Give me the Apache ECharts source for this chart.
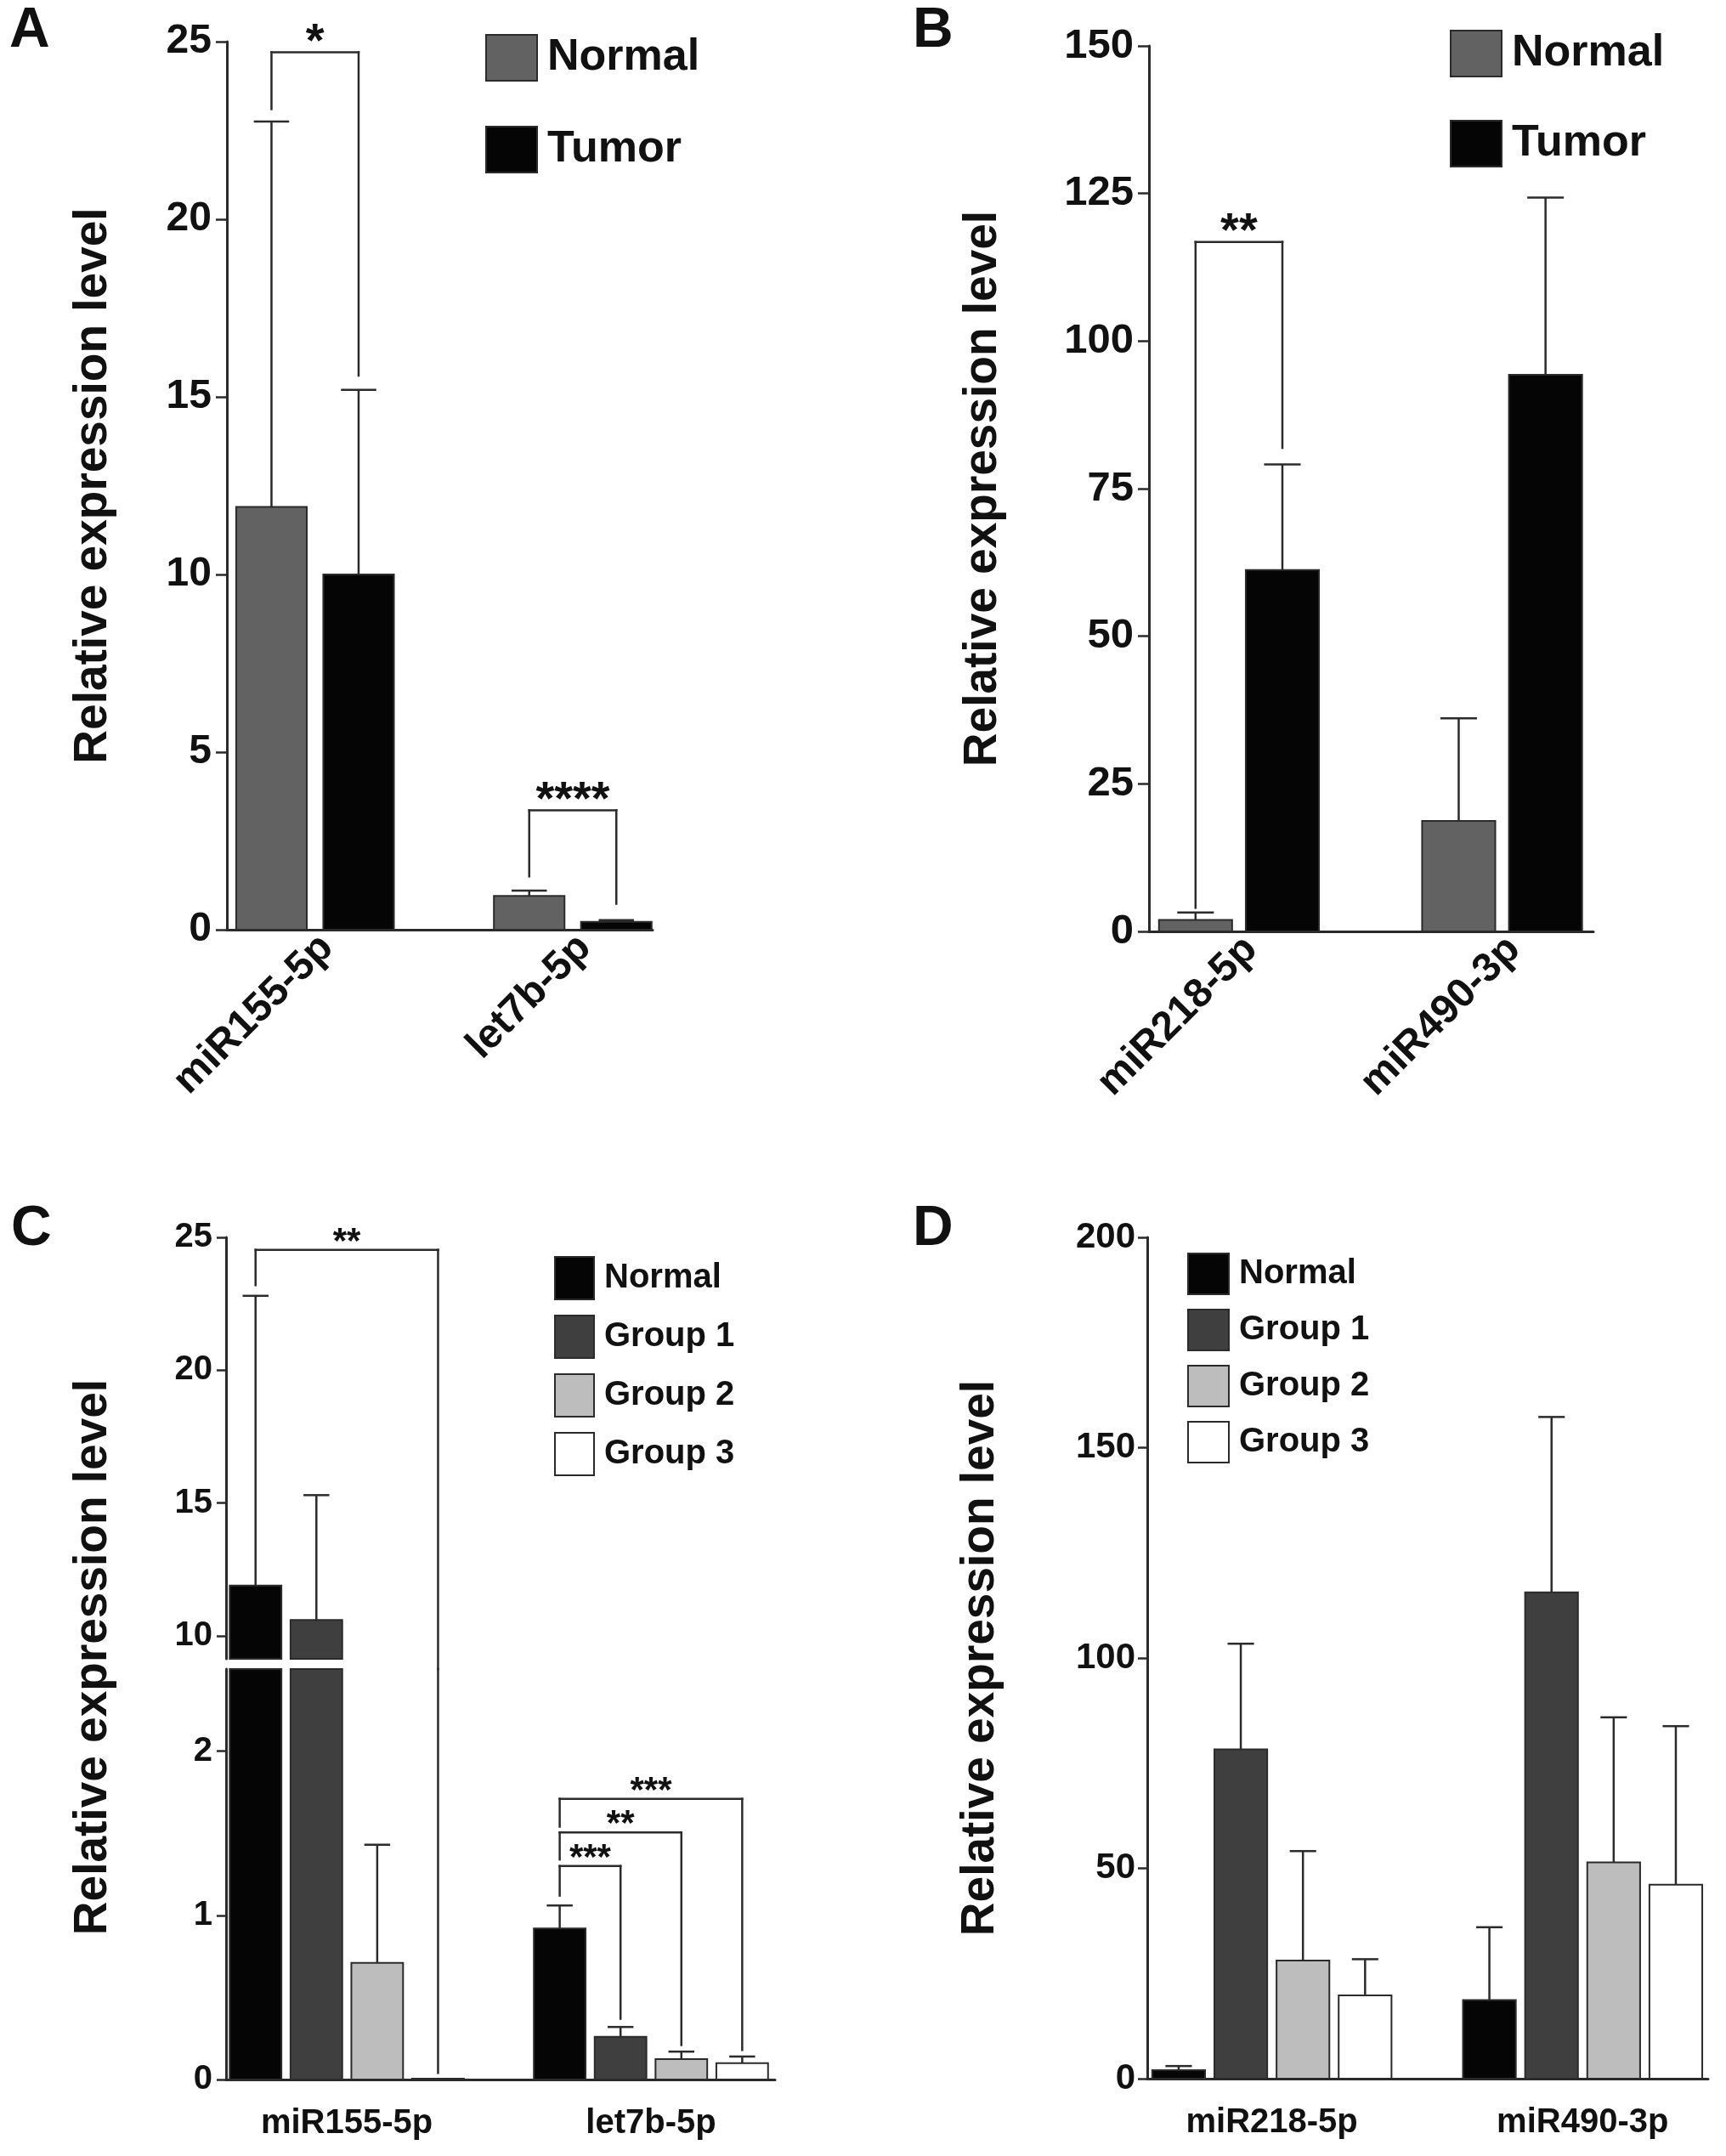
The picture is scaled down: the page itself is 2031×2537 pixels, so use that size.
<!DOCTYPE html>
<html>
<head>
<meta charset="utf-8">
<script src="https://cdn.jsdelivr.net/npm/echarts@6.0.0/dist/echarts.min.js"></script>
<style>
  html, body { margin: 0; padding: 0; background: #fff; }
  #chart { width: 2031px; height: 2537px; }
</style>
</head>
<body>
<div id="chart"></div>
<script>
// ---- data ----
var groupsA = ["miR155-5p", "let7b-5p"];
var groupsB = ["miR218-5p", "miR490-3p"];
var namesAB = ["Normal", "Tumor"];
var namesCD = ["Normal", "Group 1", "Group 2", "Group 3"];

// panel A (mean, sd)
var meanA_normal = [11.9, 0.95];
var sdA_normal = [10.85, 0.15];
var meanA_tumor = [10.0, 0.22];
var sdA_tumor = [5.2, 0.05];

// panel B
var meanB_normal = [1.95, 18.7];
var sdB_normal = [1.25, 17.4];
var meanB_tumor = [61.2, 94.3];
var sdB_tumor = [17.9, 30.0];

// panel C
var meanC_normal = [11.9, 0.92];
var sdC_normal = [10.9, 0.14];
var meanC_g1 = [10.6, 0.26];
var sdC_g1 = [4.7, 0.06];
var meanC_g2 = [0.71, 0.124];
var sdC_g2 = [0.72, 0.046];
var meanC_g3 = [0.005, 0.10];
var sdC_g3 = [0, 0.04];

// panel D
var meanD_normal = [2.0, 18.7];
var sdD_normal = [1.0, 17.3];
var meanD_g1 = [78.3, 115.6];
var sdD_g1 = [25.1, 41.7];
var meanD_g2 = [28.1, 51.4];
var sdD_g2 = [26.0, 34.5];
var meanD_g3 = [19.8, 46.1];
var sdD_g3 = [8.6, 37.7];

// significance brackets: [group, barFrom, barTo, top, leftEnd, rightEnd]
var bracketsA = [[0, 0, 1, 24.7, 23.1, 15.6], [1, 0, 1, 3.36, 1.5, 0.73]];
var starsA = ["*", "****"];
var bracketsB = [[0, 0, 1, 116.8, 4.0, 81.9]];
var starsB = ["**"];
var bracketsC = [[0, 0, 3, 24.53, 23.2, 0.04], [1, 0, 1, 1.30, 1.12, 0.37], [1, 0, 2, 1.505, 1.34, 0.21], [1, 0, 3, 1.71, 1.54, 0.18]];
var starsC = ["**", "***", "**", "***"];

// tick labels
var ticksCUpper = [10, 15, 20, 25];
var ticksCLower = [0, 1, 2];

var colorsAB = ["#626262", "#050505"];
var colorsCD = ["#050505", "#3f3f3f", "#bdbdbd", "#ffffff"];

var FONT = "'Liberation Sans', Arial, Helvetica, sans-serif";
var INK = "#2b2b2b";

// ---- helpers ----
function pack(means, sds) {
    return means.map(function (m, i) { return [i, m, sds[i]]; });
}

function barSeries(name, k, n, color, data, xi, yi, lay) {
    return {
        type: "custom",
        name: name,
        xAxisIndex: xi,
        yAxisIndex: yi,
        itemStyle: { color: color, borderColor: INK, borderWidth: 2 },
        data: data,
        silent: true,
        renderItem: function (params, api) {
            var g = api.value(0), v = api.value(1), sd = api.value(2);
            var unit = api.size([1, 0])[0];
            var w = unit * lay.barFrac;
            var cx = api.coord([g + (k - (n - 1) / 2) * lay.step, lay.lo])[0];
            var yBase = api.coord([g, lay.lo])[1];
            var top = Math.min(v, lay.hi);
            var children = [];
            if (top >= lay.lo) {
                var yTop = api.coord([g, top])[1];
                children.push({
                    type: "rect",
                    shape: { x: cx - w / 2, y: yTop, width: w, height: yBase - yTop },
                    style: { fill: color, stroke: INK, lineWidth: 2 }
                });
            }
            if (sd > 0 && v >= lay.lo && v <= lay.hi) {
                var y1 = api.coord([g, v])[1], y2 = api.coord([g, v + sd])[1];
                children.push({
                    type: "line", shape: { x1: cx, y1: y1, x2: cx, y2: y2 },
                    style: { stroke: INK, lineWidth: 2.5 }
                });
                children.push({
                    type: "line", shape: { x1: cx - w / 4, y1: y2, x2: cx + w / 4, y2: y2 },
                    style: { stroke: INK, lineWidth: 2.5 }
                });
            }
            return { type: "group", children: children };
        }
    };
}

function bracketSeries(data, stars, n, xi, yi, lay, fs) {
    return {
        type: "custom",
        xAxisIndex: xi,
        yAxisIndex: yi,
        data: data,
        silent: true,
        z: 5,
        renderItem: function (params, api) {
            var g = api.value(0), a = api.value(1), b = api.value(2);
            var top = api.value(3), ends = [api.value(4), api.value(5)];
            var xs = [
                api.coord([g + (a - (n - 1) / 2) * lay.step, lay.lo])[0],
                api.coord([g + (b - (n - 1) / 2) * lay.step, lay.lo])[0]
            ];
            var children = [];
            var st = { stroke: INK, lineWidth: 2.5, lineCap: "square" };
            if (top > lay.lo) {
                var yFrom = api.coord([g, Math.min(top, lay.hi)])[1];
                for (var i = 0; i < 2; i++) {
                    if (ends[i] >= lay.hi) continue;
                    var yTo = api.coord([g, Math.max(ends[i], lay.lo)])[1];
                    if (ends[i] < lay.lo) yTo += lay.bridge || 0;
                    children.push({ type: "line", shape: { x1: xs[i], y1: yFrom, x2: xs[i], y2: yTo }, style: st });
                }
            }
            if (top >= lay.lo && top <= lay.hi) {
                var yt = api.coord([g, top])[1];
                children.push({ type: "line", shape: { x1: xs[0], y1: yt, x2: xs[1], y2: yt }, style: st });
                children.push({
                    type: "text", x: (xs[0] + xs[1]) / 2, y: yt - 0.2 * fs,
                    style: {
                        text: stars[params.dataIndex], fontSize: fs, fontWeight: "bold", fontFamily: FONT,
                        fill: "#111", align: "center", verticalAlign: "middle"
                    }
                });
            }
            return { type: "group", children: children };
        }
    };
}

// shift: small horizontal nudge of the rotated labels, in category units
function xAxisCfg(grid, min, max, groups, rotate, fs, margin, show, shift) {
    shift = shift || 0;
    return {
        type: "value", gridIndex: grid, min: min, max: max, show: show !== false,
        axisLine: { show: true, onZero: false, lineStyle: { color: INK, width: 3 } },
        axisTick: { show: false },
        splitLine: { show: false },
        axisLabel: {
            customValues: [0 + shift, 1 + shift],
            formatter: function (v) { return groups[Math.round(v - shift)]; },
            rotate: rotate, margin: margin,
            fontSize: fs, fontWeight: "bold", fontFamily: FONT, color: "#111"
        }
    };
}

function yAxisCfg(grid, min, max, opts) {
    var cfg = {
        type: "value", gridIndex: grid, min: min, max: max,
        axisLine: { show: true, onZero: false, lineStyle: { color: INK, width: 3 } },
        axisTick: { show: true, inside: false, length: opts.tickLen, lineStyle: { color: INK, width: 2.5 } },
        splitLine: { show: false },
        axisLabel: { margin: opts.margin, fontSize: opts.fs, fontWeight: "bold", fontFamily: FONT, color: "#111" }
    };
    if (opts.interval) cfg.interval = opts.interval;
    if (opts.ticks) {
        cfg.axisLabel.customValues = opts.ticks;
        cfg.axisTick.customValues = opts.ticks;
    }
    if (opts.name) {
        cfg.name = opts.name;
        cfg.nameLocation = "middle";
        cfg.nameRotate = 90;
        cfg.nameGap = opts.nameGap;
        cfg.nameTextStyle = { fontSize: 55, fontWeight: "bold", fontFamily: FONT, color: "#111" };
    }
    return cfg;
}

function legendCfg(left, top, names, colors, w, h, gap, fs) {
    return {
        left: left, top: top, orient: "vertical", padding: 0,
        itemWidth: w, itemHeight: h, itemGap: gap, selectedMode: false,
        textStyle: { fontSize: fs, fontWeight: "bold", fontFamily: FONT, color: "#111", padding: [0, 0, 0, 7] },
        data: names.map(function (nm, i) {
            return { name: nm, icon: "rect", itemStyle: { color: colors[i], borderColor: INK, borderWidth: 2 } };
        })
    };
}

// ---- layout per panel ----
var layA = { step: 0.338, barFrac: 0.274, lo: 0, hi: 25 };
var layB = { step: 0.33, barFrac: 0.278, lo: 0, hi: 150 };
var layCU = { step: 0.2, barFrac: 0.17, lo: 9.14, hi: 25, bridge: 12 };
var layCL = { step: 0.2, barFrac: 0.17, lo: 0, hi: 2.5 };
var layD = { step: 0.2, barFrac: 0.17, lo: 0, hi: 200 };

var YNAME = "Relative expression level";

var dataC = [pack(meanC_normal, sdC_normal), pack(meanC_g1, sdC_g1), pack(meanC_g2, sdC_g2), pack(meanC_g3, sdC_g3)];
var dataD = [pack(meanD_normal, sdD_normal), pack(meanD_g1, sdD_g1), pack(meanD_g2, sdD_g2), pack(meanD_g3, sdD_g3)];

var series = [];
// A
series.push(barSeries(namesAB[0], 0, 2, colorsAB[0], pack(meanA_normal, sdA_normal), 0, 0, layA));
series.push(barSeries(namesAB[1], 1, 2, colorsAB[1], pack(meanA_tumor, sdA_tumor), 0, 0, layA));
series.push(bracketSeries(bracketsA, starsA, 2, 0, 0, layA, 56));
// B
series.push(barSeries(namesAB[0], 0, 2, colorsAB[0], pack(meanB_normal, sdB_normal), 1, 1, layB));
series.push(barSeries(namesAB[1], 1, 2, colorsAB[1], pack(meanB_tumor, sdB_tumor), 1, 1, layB));
series.push(bracketSeries(bracketsB, starsB, 2, 1, 1, layB, 56));
// C (upper + lower part of broken axis)
namesCD.forEach(function (nm, k) {
    series.push(barSeries(nm, k, 4, colorsCD[k], dataC[k], 2, 2, layCU));
    series.push(barSeries(nm, k, 4, colorsCD[k], dataC[k], 3, 3, layCL));
});
series.push(bracketSeries(bracketsC, starsC, 4, 2, 2, layCU, 42));
series.push(bracketSeries(bracketsC, starsC, 4, 3, 3, layCL, 42));
// D
namesCD.forEach(function (nm, k) {
    series.push(barSeries(nm, k, 4, colorsCD[k], dataD[k], 4, 4, layD));
});

var letterStyle = { fontSize: 66, fontWeight: "bold", fontFamily: FONT, color: "#111" };

var option = {
    backgroundColor: "#fff",
    animation: false,
    title: [
        { text: "A", left: 11, top: 4, padding: 0, textStyle: letterStyle },
        { text: "B", left: 1074, top: 4, padding: 0, textStyle: letterStyle },
        { text: "C", left: 13, top: 1414, padding: 0, textStyle: letterStyle },
        { text: "D", left: 1074, top: 1414, padding: 0, textStyle: letterStyle }
    ],
    legend: [
        legendCfg(571, 40, namesAB, colorsAB, 60, 54, 52, 52),
        legendCfg(1706, 35, namesAB, colorsAB, 60, 54, 50, 52),
        legendCfg(652, 1478, namesCD, colorsCD, 46, 50, 17, 40),
        legendCfg(1397, 1474, namesCD, colorsCD, 48, 48, 16, 40)
    ],
    grid: [
        { left: 267, top: 49, width: 501, height: 1045, outerBoundsMode: "none" },
        { left: 1352, top: 54, width: 523, height: 1042, outerBoundsMode: "none" },
        { left: 266, top: 1456, width: 646, height: 496, outerBoundsMode: "none" },
        { left: 266, top: 1964, width: 646, height: 483, outerBoundsMode: "none" },
        { left: 1350, top: 1456, width: 660, height: 990, outerBoundsMode: "none" }
    ],
    xAxis: [
        xAxisCfg(0, -0.342, 1.31, groupsA, 45, 48, 14, true, 0.046),
        xAxisCfg(1, -0.342, 1.347, groupsB, 45, 48, 14, true, 0.045),
        xAxisCfg(2, -0.397, 1.408, groupsA, 0, 40, 32, false),
        xAxisCfg(3, -0.397, 1.408, groupsA, 0, 40, 32),
        xAxisCfg(4, -0.401, 1.404, groupsB, 0, 40, 32)
    ],
    yAxis: [
        yAxisCfg(0, 0, 25, { interval: 5, tickLen: 13, margin: 18, fs: 48, name: YNAME, nameGap: 130 }),
        yAxisCfg(1, 0, 150, { interval: 25, tickLen: 13, margin: 18, fs: 49, name: YNAME, nameGap: 168 }),
        yAxisCfg(2, 9.14, 25, { ticks: ticksCUpper, tickLen: 11, margin: 16, fs: 40 }),
        yAxisCfg(3, 0, 2.5, { ticks: ticksCLower, tickLen: 11, margin: 16, fs: 40 }),
        yAxisCfg(4, 0, 200, { interval: 50, tickLen: 11, margin: 14, fs: 42, name: YNAME, nameGap: 169 })
    ],
    graphic: [{
        type: "text", x: 110, y: 1950, rotation: Math.PI / 2,
        style: {
            text: YNAME, fontSize: 55, fontWeight: "bold", fontFamily: FONT, fill: "#111",
            align: "center", verticalAlign: "middle"
        }
    }],
    series: series
};

var chart = echarts.init(document.getElementById("chart"));
chart.setOption(option);
</script>
</body>
</html>
